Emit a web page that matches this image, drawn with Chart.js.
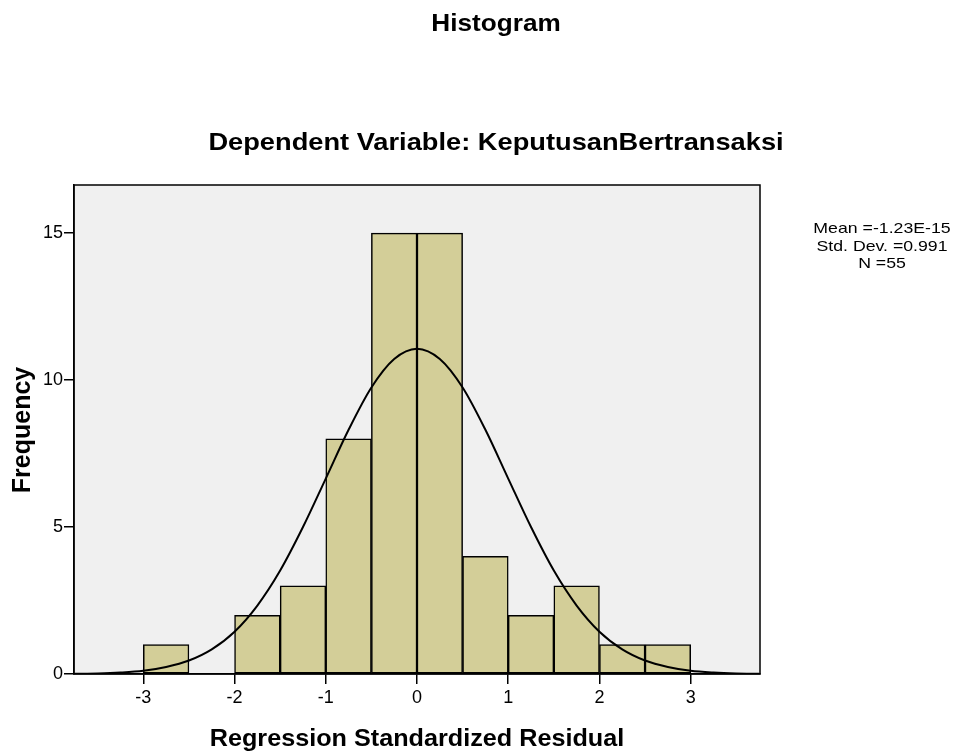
<!DOCTYPE html>
<html lang="en">
<head>
  <meta charset="UTF-8">
  <title>Histogram - KeputusanBertransaksi</title>
  <script src="https://cdn.jsdelivr.net/npm/chart.js"></script>
  <style>
    html, body { margin: 0; padding: 0; background: #fff; }
    #wrap { width: 955px; height: 753px; }
  </style>
</head>
<body>
  <div id="wrap"><canvas id="hist" width="955" height="753"></canvas></div>

  <script>
    // histogram bins (width 0.5), centre of each bin and its count
    const binCenters = [-2.75, -2.25, -1.75, -1.25, -0.75, -0.25, 0.25, 0.75, 1.25, 1.75, 2.25, 2.75];
    const frequencies = [1, 0, 2, 3, 8, 15, 15, 4, 2, 3, 1, 1];

    // normal curve
    const curveX = [-3.75, -3.5, -3.25, -3, -2.75, -2.5, -2.25, -2, -1.75, -1.5, -1.25, -1, -0.75, -0.5, -0.25, 0,
                    0.25, 0.5, 0.75, 1, 1.25, 1.5, 1.75, 2, 2.25, 2.5, 2.75, 3, 3.25, 3.5, 3.75];
    const curveY = [0.01, 0.02, 0.05, 0.11, 0.24, 0.46, 0.84, 1.44, 2.33, 3.52, 5.00, 6.65, 8.31, 9.75, 10.72, 11.07,
                    10.72, 9.75, 8.31, 6.65, 5.00, 3.52, 2.33, 1.44, 0.84, 0.46, 0.24, 0.11, 0.05, 0.02, 0.01];

    const xTicks = [-3, -2, -1, 0, 1, 2, 3];
    const yTicks = [0, 5, 10, 15];

    const statsLines = ['Mean =-1.23E-15', 'Std. Dev. =0.991', 'N =55'];

    const FONT = "'Liberation Sans', Arial, sans-serif";

    // text in the original is a bit wider than Liberation Sans, so stretch it sideways
    function wideText(ctx, text, x, y, sx, rotate) {
      ctx.save();
      ctx.translate(x, y);
      if (rotate) ctx.rotate(-Math.PI / 2);
      else ctx.scale(sx, 1);
      ctx.fillText(text, 0, 0);
      ctx.restore();
    }

    // plot background, frame and all the free text
    const decor = {
      id: 'decor',
      beforeDraw(chart) {
        const { ctx, chartArea: a } = chart;
        ctx.save();
        ctx.fillStyle = '#f0f0f0';
        ctx.fillRect(a.left, a.top, a.right - a.left, a.bottom - a.top);
        ctx.restore();
      },
      afterDraw(chart) {
        const { ctx, chartArea: a } = chart;
        ctx.save();
        ctx.strokeStyle = '#000';
        ctx.lineWidth = 1.5;
        ctx.strokeRect(a.left, a.top, a.right - a.left, a.bottom - a.top);

        ctx.fillStyle = '#000';
        ctx.textAlign = 'center';
        ctx.textBaseline = 'middle';

        ctx.font = 'bold 24px ' + FONT;
        wideText(ctx, 'Histogram', 496, 24, 1.09);
        wideText(ctx, 'Dependent Variable: KeputusanBertransaksi', 496, 143, 1.135);
        wideText(ctx, 'Regression Standardized Residual', 417, 739, 1.05);

        ctx.font = 'bold 25px ' + FONT;
        wideText(ctx, 'Frequency', 23, 430, 1, true);

        ctx.font = '15px ' + FONT;
        statsLines.forEach((t, i) => wideText(ctx, t, 882, 229 + i * 17.5, 1.18));
        ctx.restore();
      }
    };

    const axisFont = { family: FONT, size: 18 };

    new Chart(document.getElementById('hist').getContext('2d'), {
      type: 'bar',
      data: {
        datasets: [
          {
            type: 'line',
            data: curveX.map((x, i) => ({ x, y: curveY[i] })),
            borderColor: '#000',
            borderWidth: 2,
            pointRadius: 0,
            fill: false,
            cubicInterpolationMode: 'monotone',
            order: 0
          },
          {
            type: 'bar',
            data: binCenters.map((x, i) => ({ x, y: frequencies[i] })),
            backgroundColor: '#d3ce98',
            borderColor: '#000',
            borderWidth: 1.5,
            borderSkipped: false,
            barPercentage: 1,
            categoryPercentage: 1,
            order: 1
          }
        ]
      },
      options: {
        responsive: false,
        animation: false,
        layout: { padding: { top: 185, right: 195, left: 0, bottom: 0 } },
        plugins: {
          legend: { display: false },
          tooltip: { enabled: false },
          title: { display: false }
        },
        scales: {
          x: {
            type: 'linear',
            min: -3.76,
            max: 3.76,
            offset: false,
            afterBuildTicks: s => { s.ticks = xTicks.map(v => ({ value: v })); },
            afterFit: s => { s.height = 79; },
            ticks: { font: axisFont, color: '#000', padding: 3, maxRotation: 0, autoSkip: false },
            grid: { offset: false, drawOnChartArea: false, drawTicks: true, tickLength: 10, color: '#000', lineWidth: 1.5 },
            border: { display: true, color: '#000', width: 1.5 }
          },
          y: {
            type: 'linear',
            min: 0,
            max: 16.64,
            afterBuildTicks: s => { s.ticks = yTicks.map(v => ({ value: v })); },
            afterFit: s => { s.width = 74; },
            ticks: { font: axisFont, color: '#000', padding: 1 },
            grid: { drawOnChartArea: false, drawTicks: true, tickLength: 10, color: '#000', lineWidth: 1.5 },
            border: { display: true, color: '#000', width: 1.5 }
          }
        }
      },
      plugins: [decor]
    });
  </script>
</body>
</html>
